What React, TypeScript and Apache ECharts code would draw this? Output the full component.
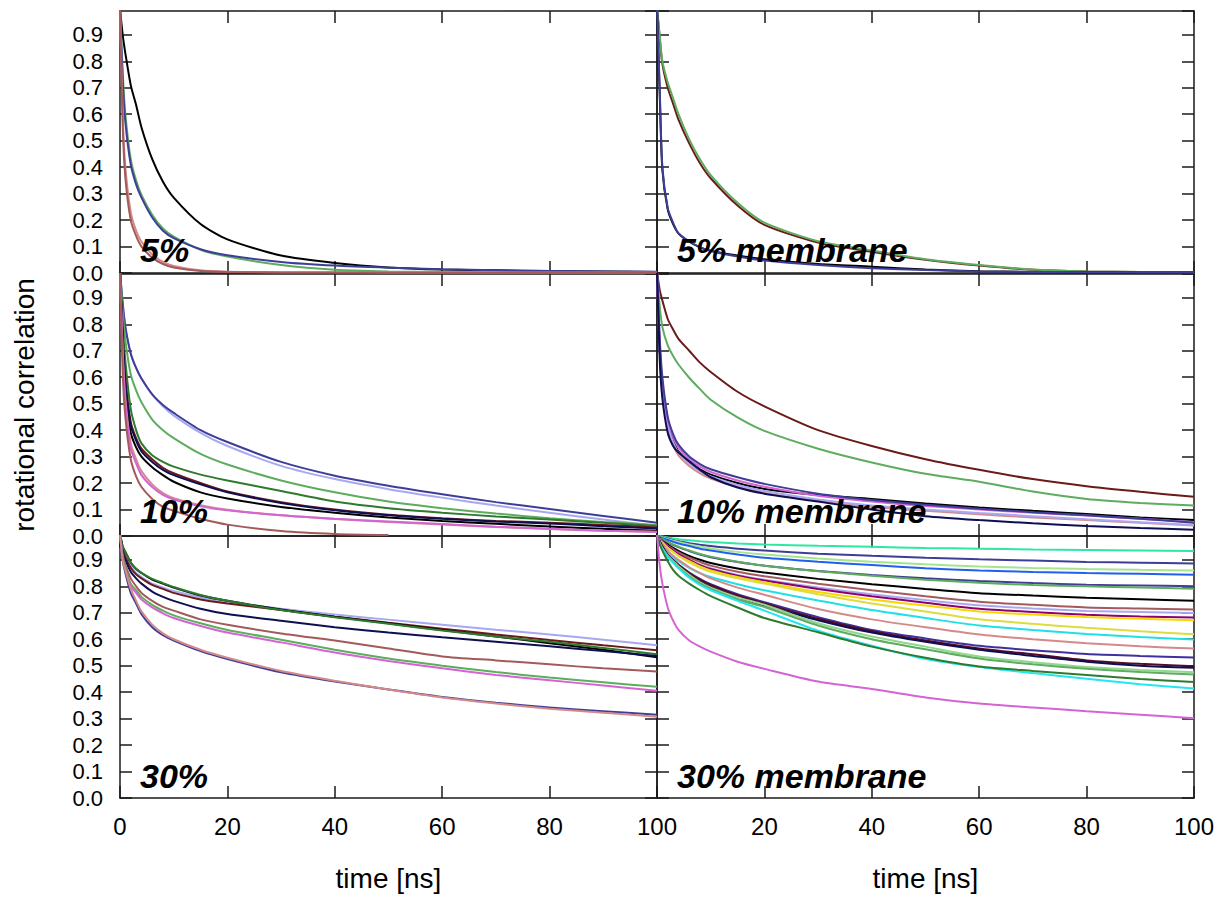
import React, { useEffect, useRef } from 'react';
import * as echarts from 'echarts';

// Sampling times [ns] shared by every curve
const TIME = [0, 0.5, 1, 2, 3, 4, 6, 8, 10, 15, 20, 30, 40, 50, 60, 70, 80, 90, 100];
const X_TICK_STEP = 20;
const Y_TICK_STEP = 0.1;
const Y_MAX = 0.99;
const PANEL_TITLES = ['5%', '5% membrane', '10%', '10% membrane', '30%', '30% membrane'];
const X_TITLE = 'time [ns]';
const Y_TITLE = 'rotational correlation';

// Line colours
const C_BLACK = '#000000';
const C_GREEN = '#5eac5e';
const C_SLATE = '#3e3e98';
const C_NAVY = '#0e0e52';
const C_DARKRED = '#6b1a1a';
const C_BROWN = '#a25a5a';
const C_ROSY = '#d48a8a';
const C_LAVENDER = '#a8a8f2';
const C_MAGENTA = '#d464d4';
const C_DARKGREEN = '#2e7a2e';
const C_AQUA = '#2ee8a2';
const C_ROYAL = '#2060f0';
const C_LIGHTGREEN = '#a6e48e';
const C_YELLOW = '#f6d800';
const C_OLIVEYELLOW = '#dcdc40';
const C_CYAN = '#20e0e4';
const C_CYAN2 = '#22e6f2';
const C_PURPLE = '#8e0070';
const C_INDIGO = '#40309e';
const C_MAROON = '#5a0a20';
const C_PALEGREEN = '#92d692';

// ---- 5% ----
const p5Black = [1.0, 0.9, 0.83, 0.71, 0.635, 0.55, 0.43, 0.345, 0.285, 0.185, 0.127, 0.066, 0.038, 0.021, 0.013, 0.01, 0.008, 0.006, 0.004];
const p5Green = [1.0, 0.76, 0.6, 0.43, 0.35, 0.295, 0.22, 0.168, 0.137, 0.088, 0.062, 0.03, 0.012, 0.006, 0.004, 0.003, 0.003, 0.003, 0.003];
const p5Blue = [1.0, 0.73, 0.57, 0.41, 0.335, 0.285, 0.21, 0.16, 0.132, 0.09, 0.067, 0.042, 0.028, 0.02, 0.014, 0.01, 0.008, 0.006, 0.005];
const p5Rosy = [1.0, 0.6, 0.4, 0.23, 0.16, 0.118, 0.07, 0.042, 0.027, 0.01, 0.005, 0.003, 0.003, 0.002, 0.002, 0.002, 0.002, 0.002, 0.002];
const p5Brown = [1.0, 0.56, 0.36, 0.2, 0.14, 0.1, 0.058, 0.034, 0.021, 0.008, 0.004, 0.002, 0.002, 0.001, 0.001, 0.001, 0.001, 0.001, 0.001];

// ---- 5% membrane ----
const p5mGreen = [1.0, 0.9, 0.8, 0.72, 0.66, 0.6, 0.505, 0.43, 0.37, 0.265, 0.19, 0.12, 0.085, 0.052, 0.03, 0.013, 0.006, 0.004, 0.003];
const p5mRed = [1.0, 0.89, 0.79, 0.7, 0.64, 0.58, 0.49, 0.415, 0.358, 0.255, 0.182, 0.115, 0.08, 0.05, 0.028, 0.012, 0.006, 0.004, 0.003];
const p5mBlue = [1.0, 0.7, 0.4, 0.245, 0.19, 0.15, 0.12, 0.098, 0.083, 0.062, 0.047, 0.03, 0.018, 0.011, 0.006, 0.004, 0.003, 0.002, 0.002];
const p5mBlack = [1.0, 0.68, 0.39, 0.24, 0.185, 0.15, 0.118, 0.097, 0.084, 0.066, 0.052, 0.034, 0.024, 0.013, 0.007, 0.004, 0.003, 0.002, 0.002];

// ---- 10% ----
const p10Slate = [1.0, 0.88, 0.79, 0.69, 0.635, 0.595, 0.535, 0.495, 0.465, 0.4, 0.355, 0.28, 0.228, 0.19, 0.158, 0.128, 0.102, 0.076, 0.05];
const p10Lavender = [1.0, 0.88, 0.79, 0.69, 0.635, 0.595, 0.535, 0.49, 0.455, 0.39, 0.34, 0.265, 0.215, 0.177, 0.145, 0.115, 0.088, 0.062, 0.038];
const p10Green = [1.0, 0.85, 0.74, 0.61, 0.55, 0.505, 0.44, 0.4, 0.37, 0.31, 0.27, 0.21, 0.165, 0.13, 0.105, 0.085, 0.067, 0.053, 0.042];
const p10DarkGreen = [1.0, 0.8, 0.66, 0.48, 0.4, 0.35, 0.305, 0.28, 0.262, 0.232, 0.21, 0.17, 0.13, 0.105, 0.088, 0.074, 0.062, 0.05, 0.038];
const p10Navy = [1.0, 0.75, 0.58, 0.42, 0.36, 0.32, 0.28, 0.25, 0.23, 0.195, 0.165, 0.125, 0.097, 0.078, 0.065, 0.055, 0.047, 0.037, 0.028];
const p10DarkRed = [1.0, 0.76, 0.59, 0.43, 0.37, 0.33, 0.29, 0.258, 0.237, 0.2, 0.168, 0.128, 0.1, 0.08, 0.067, 0.057, 0.05, 0.042, 0.032];
const p10Black = [1.0, 0.73, 0.55, 0.39, 0.335, 0.3, 0.26, 0.23, 0.205, 0.165, 0.142, 0.11, 0.088, 0.07, 0.057, 0.046, 0.036, 0.027, 0.02];
const p10Magenta = [1.0, 0.68, 0.5, 0.33, 0.275, 0.23, 0.185, 0.155, 0.138, 0.112, 0.097, 0.078, 0.065, 0.055, 0.045, 0.035, 0.027, 0.02, 0.015];
const p10Rosy = [1.0, 0.7, 0.52, 0.35, 0.29, 0.245, 0.195, 0.162, 0.143, 0.116, 0.099, 0.078, 0.064, 0.053, 0.043, 0.034, 0.026, 0.02, 0.016];
const p10Brown = [1.0, 0.62, 0.45, 0.29, 0.225, 0.185, 0.14, 0.11, 0.095, 0.065, 0.043, 0.019, 0.008, 0.004, null, null, null, null, null];

// ---- 10% membrane ----
const p10mDarkRed = [1.0, 0.93, 0.89, 0.82, 0.78, 0.745, 0.7, 0.655, 0.62, 0.545, 0.49, 0.4, 0.34, 0.29, 0.25, 0.215, 0.188, 0.167, 0.148];
const p10mGreen = [1.0, 0.87, 0.79, 0.72, 0.68, 0.648, 0.598, 0.555, 0.515, 0.448, 0.397, 0.33, 0.278, 0.235, 0.205, 0.168, 0.14, 0.125, 0.115];
const p10mSlate = [1.0, 0.75, 0.6, 0.45, 0.385, 0.345, 0.3, 0.272, 0.252, 0.222, 0.197, 0.16, 0.136, 0.118, 0.103, 0.09, 0.078, 0.065, 0.05];
const p10mMagenta = [1.0, 0.73, 0.58, 0.44, 0.375, 0.335, 0.29, 0.262, 0.242, 0.21, 0.186, 0.152, 0.13, 0.113, 0.1, 0.088, 0.077, 0.065, 0.052];
const p10mBlack = [1.0, 0.71, 0.56, 0.425, 0.36, 0.32, 0.28, 0.252, 0.232, 0.2, 0.178, 0.155, 0.14, 0.123, 0.108, 0.095, 0.083, 0.07, 0.06];
const p10mLavender = [1.0, 0.71, 0.56, 0.42, 0.355, 0.315, 0.275, 0.245, 0.225, 0.193, 0.17, 0.138, 0.115, 0.1, 0.087, 0.075, 0.063, 0.052, 0.042];
const p10mRosy = [1.0, 0.7, 0.55, 0.41, 0.345, 0.305, 0.265, 0.237, 0.217, 0.186, 0.163, 0.132, 0.11, 0.095, 0.082, 0.07, 0.06, 0.05, 0.04];
const p10mNavy = [1.0, 0.67, 0.52, 0.39, 0.34, 0.315, 0.282, 0.25, 0.222, 0.183, 0.16, 0.13, 0.1, 0.075, 0.06, 0.048, 0.038, 0.03, 0.024];

// ---- 30% ----
const p30Black = [1.0, 0.95, 0.93, 0.89, 0.865, 0.85, 0.825, 0.81, 0.795, 0.765, 0.745, 0.712, 0.685, 0.66, 0.635, 0.61, 0.585, 0.56, 0.532];
const p30DarkGreen = [1.0, 0.95, 0.93, 0.89, 0.866, 0.851, 0.828, 0.812, 0.797, 0.767, 0.745, 0.71, 0.683, 0.658, 0.633, 0.61, 0.59, 0.567, 0.543];
const p30DarkRed = [1.0, 0.94, 0.91, 0.87, 0.845, 0.83, 0.805, 0.79, 0.775, 0.75, 0.735, 0.71, 0.685, 0.662, 0.64, 0.618, 0.597, 0.577, 0.558];
const p30Lavender = [1.0, 0.94, 0.91, 0.875, 0.85, 0.835, 0.81, 0.795, 0.782, 0.758, 0.74, 0.715, 0.693, 0.674, 0.655, 0.636, 0.618, 0.598, 0.577];
const p30Navy = [1.0, 0.93, 0.9, 0.855, 0.83, 0.81, 0.78, 0.76, 0.745, 0.715, 0.695, 0.67, 0.645, 0.625, 0.607, 0.59, 0.573, 0.555, 0.537];
const p30Brown = [1.0, 0.92, 0.88, 0.83, 0.8, 0.775, 0.745, 0.722, 0.708, 0.675, 0.655, 0.622, 0.595, 0.565, 0.535, 0.52, 0.505, 0.49, 0.478];
const p30Green = [1.0, 0.91, 0.87, 0.81, 0.785, 0.76, 0.73, 0.708, 0.69, 0.66, 0.635, 0.598, 0.56, 0.527, 0.5, 0.476, 0.455, 0.437, 0.42];
const p30Magenta = [1.0, 0.9, 0.86, 0.8, 0.775, 0.75, 0.72, 0.698, 0.68, 0.65, 0.625, 0.588, 0.55, 0.518, 0.49, 0.465, 0.445, 0.425, 0.405];
const p30Slate = [1.0, 0.9, 0.85, 0.775, 0.735, 0.695, 0.645, 0.615, 0.595, 0.555, 0.525, 0.475, 0.44, 0.41, 0.382, 0.36, 0.342, 0.328, 0.315];
const p30Rosy = [1.0, 0.9, 0.86, 0.79, 0.745, 0.705, 0.655, 0.622, 0.6, 0.56, 0.53, 0.48, 0.443, 0.41, 0.38, 0.357, 0.337, 0.322, 0.307];

// ---- 30% membrane ----
const p30mAqua = [1.0, 0.99, 0.988, 0.984, 0.981, 0.978, 0.974, 0.97, 0.967, 0.962, 0.958, 0.953, 0.949, 0.945, 0.942, 0.939, 0.937, 0.935, 0.933];
const p30mSlate = [1.0, 0.99, 0.986, 0.98, 0.975, 0.97, 0.963, 0.957, 0.952, 0.942, 0.935, 0.923, 0.915, 0.908, 0.902, 0.897, 0.892, 0.889, 0.886];
const p30mLightGreen = [1.0, 0.99, 0.985, 0.978, 0.972, 0.967, 0.958, 0.95, 0.943, 0.93, 0.92, 0.905, 0.893, 0.883, 0.875, 0.869, 0.865, 0.862, 0.86];
const p30mRoyal = [1.0, 0.988, 0.982, 0.975, 0.968, 0.962, 0.952, 0.942, 0.935, 0.92, 0.908, 0.893, 0.88, 0.868, 0.86, 0.854, 0.85, 0.847, 0.844];
const p30mDarkSlate = [1.0, 0.986, 0.978, 0.966, 0.956, 0.948, 0.933, 0.92, 0.91, 0.892, 0.878, 0.858, 0.843, 0.83, 0.82, 0.812, 0.806, 0.803, 0.8];
const p30mGreen = [1.0, 0.986, 0.978, 0.967, 0.958, 0.95, 0.935, 0.922, 0.912, 0.893, 0.878, 0.857, 0.84, 0.825, 0.813, 0.805, 0.8, 0.795, 0.791];
const p30mBlack = [1.0, 0.982, 0.972, 0.958, 0.945, 0.934, 0.915, 0.9, 0.888, 0.867, 0.852, 0.828, 0.808, 0.79, 0.774, 0.765, 0.757, 0.751, 0.745];
const p30mBrown = [1.0, 0.98, 0.97, 0.953, 0.94, 0.928, 0.908, 0.892, 0.878, 0.855, 0.838, 0.81, 0.785, 0.762, 0.742, 0.73, 0.72, 0.716, 0.712];
const p30mLavender = [1.0, 0.978, 0.968, 0.95, 0.935, 0.922, 0.9, 0.882, 0.868, 0.843, 0.825, 0.795, 0.77, 0.748, 0.728, 0.716, 0.707, 0.703, 0.699];
const p30mPurple = [1.0, 0.978, 0.968, 0.95, 0.935, 0.922, 0.9, 0.88, 0.865, 0.84, 0.822, 0.79, 0.762, 0.738, 0.715, 0.703, 0.692, 0.686, 0.682];
const p30mYellow = [1.0, 0.975, 0.965, 0.945, 0.93, 0.915, 0.895, 0.875, 0.86, 0.835, 0.815, 0.778, 0.75, 0.727, 0.705, 0.693, 0.684, 0.677, 0.672];
const p30mOlive = [1.0, 0.975, 0.965, 0.945, 0.93, 0.915, 0.89, 0.87, 0.855, 0.83, 0.81, 0.77, 0.735, 0.705, 0.675, 0.658, 0.643, 0.63, 0.619];
const p30mCyan = [1.0, 0.97, 0.955, 0.93, 0.91, 0.895, 0.87, 0.85, 0.835, 0.808, 0.785, 0.746, 0.71, 0.68, 0.652, 0.635, 0.62, 0.608, 0.599];
const p30mRosy = [1.0, 0.975, 0.96, 0.935, 0.915, 0.9, 0.872, 0.85, 0.83, 0.795, 0.768, 0.714, 0.675, 0.645, 0.618, 0.6, 0.585, 0.573, 0.565];
const p30mIndigo = [1.0, 0.97, 0.95, 0.92, 0.9, 0.882, 0.852, 0.828, 0.808, 0.77, 0.74, 0.683, 0.635, 0.603, 0.575, 0.558, 0.544, 0.537, 0.531];
const p30mMaroon = [1.0, 0.97, 0.95, 0.918, 0.898, 0.88, 0.85, 0.825, 0.805, 0.765, 0.735, 0.677, 0.63, 0.595, 0.565, 0.543, 0.52, 0.507, 0.498];
const p30mNavy = [1.0, 0.97, 0.948, 0.915, 0.893, 0.875, 0.843, 0.818, 0.798, 0.758, 0.728, 0.672, 0.625, 0.59, 0.56, 0.537, 0.515, 0.5, 0.492];
const p30mPaleGreen = [1.0, 0.965, 0.945, 0.915, 0.895, 0.876, 0.843, 0.815, 0.795, 0.758, 0.73, 0.66, 0.61, 0.572, 0.535, 0.513, 0.495, 0.484, 0.475];
const p30mGreen2 = [1.0, 0.96, 0.94, 0.91, 0.89, 0.87, 0.837, 0.81, 0.79, 0.75, 0.722, 0.652, 0.6, 0.562, 0.527, 0.505, 0.488, 0.476, 0.467];
const p30mCyan2 = [1.0, 0.96, 0.94, 0.91, 0.89, 0.868, 0.832, 0.805, 0.785, 0.745, 0.708, 0.632, 0.575, 0.525, 0.495, 0.472, 0.451, 0.43, 0.414];
const p30mDarkGreen = [1.0, 0.96, 0.935, 0.895, 0.862, 0.84, 0.81, 0.785, 0.763, 0.72, 0.68, 0.626, 0.572, 0.53, 0.497, 0.48, 0.465, 0.45, 0.438];
const p30mOrchid = [1.0, 0.88, 0.81, 0.72, 0.67, 0.635, 0.595, 0.572, 0.553, 0.515, 0.488, 0.44, 0.412, 0.38, 0.357, 0.342, 0.328, 0.315, 0.301];

type Curve = [string, (number | null)[]];

const PANELS: Curve[][] = [
  [[C_BLACK, p5Black], [C_GREEN, p5Green], [C_SLATE, p5Blue], [C_ROSY, p5Rosy], [C_BROWN, p5Brown]],
  [[C_DARKRED, p5mRed], [C_GREEN, p5mGreen], [C_BLACK, p5mBlack], [C_SLATE, p5mBlue]],
  [[C_LAVENDER, p10Lavender], [C_SLATE, p10Slate], [C_GREEN, p10Green], [C_DARKGREEN, p10DarkGreen],
   [C_DARKRED, p10DarkRed], [C_BLACK, p10Black], [C_NAVY, p10Navy], [C_ROSY, p10Rosy], [C_MAGENTA, p10Magenta], [C_BROWN, p10Brown]],
  [[C_DARKRED, p10mDarkRed], [C_GREEN, p10mGreen], [C_BLACK, p10mBlack], [C_ROSY, p10mRosy], [C_LAVENDER, p10mLavender],
   [C_MAGENTA, p10mMagenta], [C_SLATE, p10mSlate], [C_NAVY, p10mNavy]],
  [[C_LAVENDER, p30Lavender], [C_DARKRED, p30DarkRed], [C_BLACK, p30Black], [C_DARKGREEN, p30DarkGreen], [C_NAVY, p30Navy],
   [C_BROWN, p30Brown], [C_GREEN, p30Green], [C_MAGENTA, p30Magenta], [C_SLATE, p30Slate], [C_ROSY, p30Rosy]],
  [[C_AQUA, p30mAqua], [C_SLATE, p30mSlate], [C_LIGHTGREEN, p30mLightGreen], [C_ROYAL, p30mRoyal], [C_SLATE, p30mDarkSlate],
   [C_GREEN, p30mGreen], [C_BLACK, p30mBlack], [C_BROWN, p30mBrown], [C_LAVENDER, p30mLavender], [C_PURPLE, p30mPurple],
   [C_YELLOW, p30mYellow], [C_OLIVEYELLOW, p30mOlive], [C_CYAN, p30mCyan], [C_ROSY, p30mRosy], [C_INDIGO, p30mIndigo],
   [C_MAROON, p30mMaroon], [C_NAVY, p30mNavy], [C_PALEGREEN, p30mPaleGreen], [C_GREEN, p30mGreen2], [C_CYAN2, p30mCyan2],
   [C_DARKGREEN, p30mDarkGreen], [C_MAGENTA, p30mOrchid]],
];

const FONT = '"Liberation Sans", Arial, Helvetica, sans-serif';
const COL_LEFT = [120, 657];
const ROW_TOP = [11, 274, 536];
const PANEL_W = 537;
const PANEL_H = 262;
const TITLE_Y = [250, 511, 776];
const FRAME = { color: '#1a1a1a', width: 1.5 };

function buildOption() {
  const grid: any[] = [];
  const xAxis: any[] = [];
  const yAxis: any[] = [];
  const series: any[] = [];
  const graphic: any[] = [];
  const n = PANELS.length;

  for (let i = 0; i < n; i++) {
    const row = Math.floor(i / 2);
    const col = i % 2;
    grid.push({ left: COL_LEFT[col], top: ROW_TOP[row], width: PANEL_W, height: PANEL_H, containLabel: false });
  }

  const tick = { show: true, inside: true, length: 12, lineStyle: FRAME };
  const line = { show: true, onZero: false, lineStyle: FRAME };

  for (let pass = 0; pass < 2; pass++) {
    for (let i = 0; i < n; i++) {
      const row = Math.floor(i / 2);
      const col = i % 2;
      const labelled = pass === 0 && row === 2;
      xAxis.push({
        gridIndex: i,
        type: 'value',
        min: 0,
        max: 100,
        interval: X_TICK_STEP,
        position: pass === 0 ? 'bottom' : 'top',
        axisLine: line,
        axisTick: tick,
        splitLine: { show: false },
        axisLabel: {
          show: labelled,
          margin: 16,
          color: '#000',
          fontSize: 24,
          fontFamily: FONT,
          showMinLabel: true,
          showMaxLabel: true,
          formatter: (v: number) => (col === 1 && v === 0 ? '' : String(v)),
        },
        name: labelled ? X_TITLE : '',
        nameLocation: 'middle',
        nameGap: 66,
        nameTextStyle: { color: '#000', fontSize: 28, fontFamily: FONT },
      });
      const yLabelled = pass === 0 && col === 0;
      yAxis.push({
        gridIndex: i,
        type: 'value',
        min: 0,
        max: Y_MAX,
        interval: Y_TICK_STEP,
        position: pass === 0 ? 'left' : 'right',
        axisLine: line,
        axisTick: tick,
        splitLine: { show: false },
        axisLabel: {
          show: yLabelled,
          margin: 17,
          color: '#000',
          fontSize: 22,
          lineHeight: 22,
          fontFamily: FONT,
          showMinLabel: true,
          showMaxLabel: false,
          formatter: (v: number) => (v > 0.95 ? '' : v.toFixed(1)),
        },
        name: pass === 0 && i === 2 ? Y_TITLE : '',
        nameLocation: 'middle',
        nameRotate: 90,
        nameGap: 82,
        nameTextStyle: { color: '#000', fontSize: 28, fontFamily: FONT },
      });
    }
  }

  PANELS.forEach((curves, i) => {
    curves.forEach(([color, values]) => {
      series.push({
        type: 'line',
        xAxisIndex: i,
        yAxisIndex: i,
        data: TIME.map((t, k) => [t, values[k]]),
        showSymbol: false,
        smooth: 0.25,
        clip: true,
        silent: true,
        lineStyle: { color, width: 2 },
        itemStyle: { color },
      });
    });
  });

  PANEL_TITLES.forEach((title, i) => {
    const row = Math.floor(i / 2);
    const col = i % 2;
    graphic.push({
      type: 'text',
      left: COL_LEFT[col] + 20,
      top: TITLE_Y[row] - 17,
      z: 100,
      style: {
        text: title,
        fill: '#000',
        fontStyle: 'italic',
        fontWeight: 'bold',
        fontSize: 34,
        fontFamily: FONT,
      },
    });
  });

  return {
    animation: false,
    backgroundColor: '#ffffff',
    grid,
    xAxis,
    yAxis,
    series,
    graphic,
  };
}

export default function App() {
  const ref = useRef<HTMLDivElement>(null);
  useEffect(() => {
    if (!ref.current) return;
    const chart = echarts.init(ref.current, undefined, { renderer: 'svg' });
    chart.setOption(buildOption() as any);
    return () => chart.dispose();
  }, []);
  return (
    <div
      ref={ref}
      style={{ position: 'fixed', left: 0, top: 0, width: 1224, height: 898, background: '#fff' }}
    />
  );
}
